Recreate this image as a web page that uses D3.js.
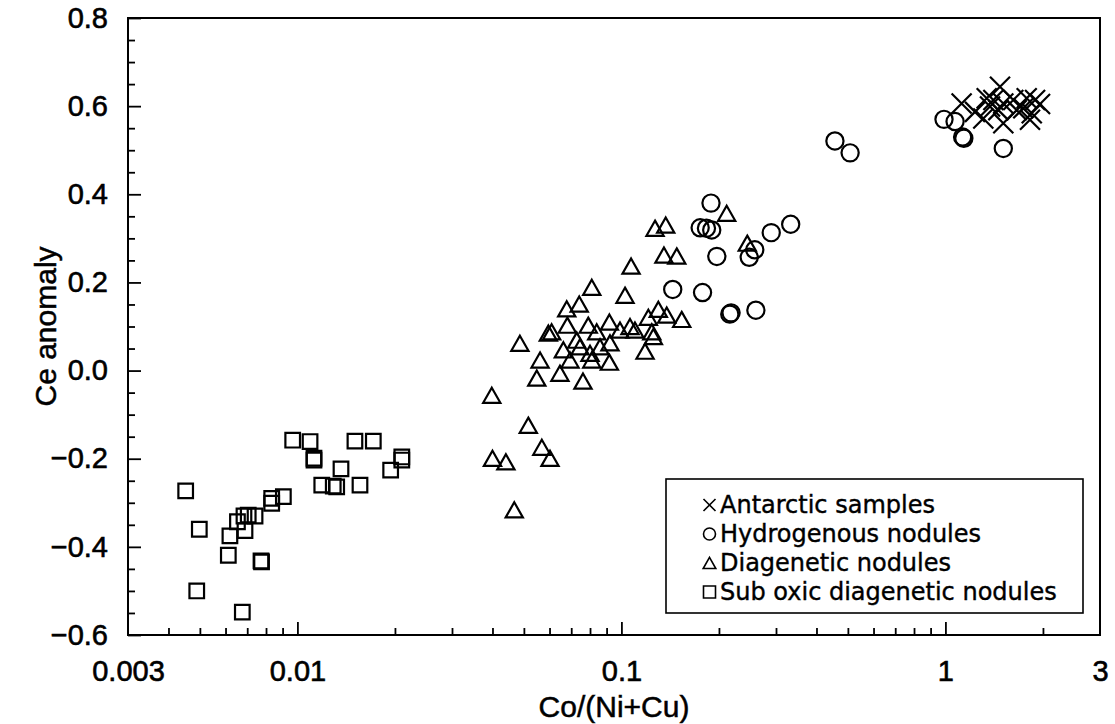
<!DOCTYPE html>
<html>
<head>
<meta charset="utf-8">
<script src="https://cdn.jsdelivr.net/npm/d3@7"></script>
<style>
  body { margin: 0; background: #fff; }
  svg { display: block; }
</style>
</head>
<body>
<svg id="chart" width="1115" height="724"></svg>
<script>
// Co/(Ni+Cu) ratio vs Ce anomaly, one [ratio, anomaly] pair per sample
const antarctic = [
  [1.122, 0.606], [1.474, 0.644], [1.341, 0.618], [1.406, 0.614], [1.373, 0.599],
  [1.509, 0.606], [1.309, 0.572], [1.509, 0.561], [1.620, 0.614], [1.782, 0.618],
  [1.891, 0.614], [1.847, 0.584], [1.739, 0.595], [1.824, 0.569], [1.660, 0.591],
  [1.457, 0.591], [1.234, 0.587], [1.959, 0.605]
];
const hydrogenous = [
  [0.990, 0.570], [1.071, 0.565], [1.13, 0.530], [1.14, 0.527], [1.509, 0.504],
  [0.456, 0.521], [0.508, 0.494],
  [0.189, 0.380], [0.175, 0.324], [0.183, 0.323], [0.190, 0.319], [0.197, 0.259],
  [0.258, 0.274], [0.248, 0.257], [0.290, 0.313], [0.333, 0.332],
  [0.144, 0.184], [0.178, 0.177], [0.216, 0.128], [0.218, 0.131], [0.260, 0.137]
];
const diagenetic = [
  [0.0398, -0.056], [0.0516, -0.124], [0.0568, -0.174], [0.0602, -0.199], [0.0400, -0.199],
  [0.0440, -0.207], [0.0467, -0.316], [0.0548, -0.017], [0.0761, -0.024], [0.0646, -0.006],
  [0.1270, 0.323], [0.1370, 0.330], [0.1353, 0.262], [0.1482, 0.260], [0.1071, 0.237],
  [0.0810, 0.189], [0.1026, 0.171], [0.0741, 0.151], [0.0678, 0.140], [0.0681, 0.103],
  [0.0595, 0.085], [0.0609, 0.088], [0.0790, 0.103], [0.0839, 0.088], [0.0918, 0.110],
  [0.0990, 0.092], [0.1063, 0.100], [0.1101, 0.092], [0.1211, 0.121], [0.1300, 0.139],
  [0.1380, 0.126], [0.1535, 0.116], [0.1241, 0.088], [0.1255, 0.077], [0.0922, 0.063],
  [0.1183, 0.044], [0.0918, 0.019], [0.0486, 0.062], [0.0561, 0.024], [0.0662, 0.047],
  [0.0728, 0.069], [0.0745, 0.054], [0.0800, 0.039], [0.0859, 0.054], [0.0810, 0.024],
  [0.0694, 0.024], [0.2113, 0.357], [0.2446, 0.289]
];
const subOxic = [
  [0.00452, -0.273], [0.00498, -0.360], [0.00489, -0.500], [0.00612, -0.419], [0.00619, -0.375],
  [0.00653, -0.343], [0.00676, -0.548], [0.00689, -0.363], [0.00684, -0.330], [0.00705, -0.328],
  [0.00740, -0.330], [0.00772, -0.432], [0.00775, -0.434], [0.00833, -0.301], [0.00833, -0.290],
  [0.00905, -0.286], [0.00967, -0.158], [0.01094, -0.161], [0.01125, -0.199], [0.01125, -0.203],
  [0.01189, -0.260], [0.0129, -0.262], [0.01322, -0.264], [0.01363, -0.223], [0.01505, -0.160],
  [0.0156, -0.260], [0.01715, -0.160], [0.0194, -0.226], [0.0210, -0.203], [0.0210, -0.196]
];

const xTickValues = [0.003, 0.01, 0.1, 1, 3];
const xTickLabels = ["0.003", "0.01", "0.1", "1", "3"];
const yTickValues = [-0.6, -0.4, -0.2, 0.0, 0.2, 0.4, 0.6, 0.8];
const yTickLabels = ["\u22120.6", "\u22120.4", "\u22120.2", "0.0", "0.2", "0.4", "0.6", "0.8"];
const legendLabels = ["Antarctic samples", "Hydrogenous nodules", "Diagenetic nodules", "Sub oxic diagenetic nodules"];

const svg = d3.select("#chart");
const frame = { left: 128, right: 1100, top: 18, bottom: 635 };

const x = d3.scaleLog().domain([0.003, 3]).range([frame.left, frame.right]);
const y = d3.scaleLinear().domain([-0.6, 0.8]).range([frame.bottom, frame.top]);

const tickFont = "'Liberation Sans', Arial, sans-serif";

// minor ticks: every log step not labelled, and every 0.05 on the y axis
const xMinor = x.ticks().filter(v => ![0.003, 0.01, 0.1, 1, 3].some(m => Math.abs(v - m) / m < 1e-6));
const xMajor = [0.01, 0.1, 1];
const yMinor = d3.range(-12, 17).map(i => i * 0.05).filter(v => Math.abs(Math.round(v * 5) - v * 5) > 1e-6);

const gx = svg.append("g").attr("transform", `translate(0,${frame.bottom})`);
gx.append("g").call(d3.axisBottom(x).tickValues(xMinor).tickSize(-7).tickFormat(""));
gx.append("g").call(d3.axisBottom(x).tickValues(xMajor).tickSize(-13).tickFormat(""));
gx.append("g").call(d3.axisBottom(x).tickValues(xTickValues).tickSize(0).tickPadding(25)
    .tickFormat((d, i) => xTickLabels[i]));

const gy = svg.append("g").attr("transform", `translate(${frame.left},0)`);
gy.append("g").call(d3.axisLeft(y).tickValues(yMinor).tickSize(-7).tickFormat(""));
gy.append("g").call(d3.axisLeft(y).tickValues(yTickValues).tickSize(-13).tickPadding(20)
    .tickFormat((d, i) => yTickLabels[i]));

svg.selectAll(".domain").remove();
svg.selectAll(".tick line").attr("stroke", "#000").attr("stroke-width", 1.8);
svg.selectAll(".tick text")
  .attr("font-family", tickFont).attr("font-size", 29).attr("fill", "#000")
  .attr("stroke", "#000").attr("stroke-width", 0.6);

// plot frame
svg.append("rect")
  .attr("x", frame.left).attr("y", frame.top)
  .attr("width", frame.right - frame.left).attr("height", frame.bottom - frame.top)
  .attr("fill", "none").attr("stroke", "#000").attr("stroke-width", 2);

// axis titles
svg.append("text")
  .attr("x", (frame.left + frame.right) / 2).attr("y", 717)
  .attr("text-anchor", "middle")
  .attr("font-family", tickFont).attr("font-size", 30)
  .attr("stroke", "#000").attr("stroke-width", 0.5)
  .text("Co/(Ni+Cu)");
svg.append("text")
  .attr("transform", `translate(56,${(frame.top + frame.bottom) / 2}) rotate(-90)`)
  .attr("text-anchor", "middle")
  .attr("font-family", tickFont).attr("font-size", 30)
  .attr("stroke", "#000").attr("stroke-width", 0.5)
  .text("Ce anomaly");

// marker shapes
const shapes = {
  cross: s => `M${-s},${-s}L${s},${s}M${-s},${s}L${s},${-s}`,
  circle: s => `M${s},0A${s},${s} 0 1,1 ${-s},0A${s},${s} 0 1,1 ${s},0Z`,
  triangle: s => `M0,${-s * 0.88}L${s},${s * 0.88}L${-s},${s * 0.88}Z`,
  square: s => `M${-s},${-s}H${s}V${s}H${-s}Z`
};

const plot = svg.append("g")
  .attr("fill", "none").attr("stroke", "#000").attr("stroke-width", 2.2);

function drawSeries(data, shape, size) {
  plot.append("g").selectAll("path")
    .data(data)
    .join("path")
    .attr("transform", d => `translate(${x(d[0])},${y(d[1])})`)
    .attr("d", shapes[shape](size));
}
drawSeries(subOxic, "square", 7.3);
drawSeries(diagenetic, "triangle", 8.6);
drawSeries(hydrogenous, "circle", 8.6);
drawSeries(antarctic, "cross", 10);

// legend
const lg = svg.append("g");
lg.append("rect")
  .attr("x", 666).attr("y", 479).attr("width", 417).attr("height", 134)
  .attr("fill", "#fff").attr("stroke", "#000").attr("stroke-width", 1.6);
const legendShapes = ["cross", "circle", "triangle", "square"];
const rows = lg.selectAll("g.row")
  .data(legendLabels)
  .join("g")
  .attr("class", "row")
  .attr("transform", (d, i) => `translate(0,${513 + i * 29})`);
rows.append("path")
  .attr("transform", "translate(709.5,-8)")
  .attr("d", (d, i) => shapes[legendShapes[i]](legendShapes[i] === "triangle" ? 6.3 : 6))
  .attr("fill", "none").attr("stroke", "#000").attr("stroke-width", 1.6);
rows.append("text")
  .attr("x", 720).attr("y", 0)
  .attr("font-family", "'DejaVu Sans', sans-serif").attr("font-size", 24)
  .attr("stroke", "#000").attr("stroke-width", 0.4)
  .text(d => d);
</script>
</body>
</html>
